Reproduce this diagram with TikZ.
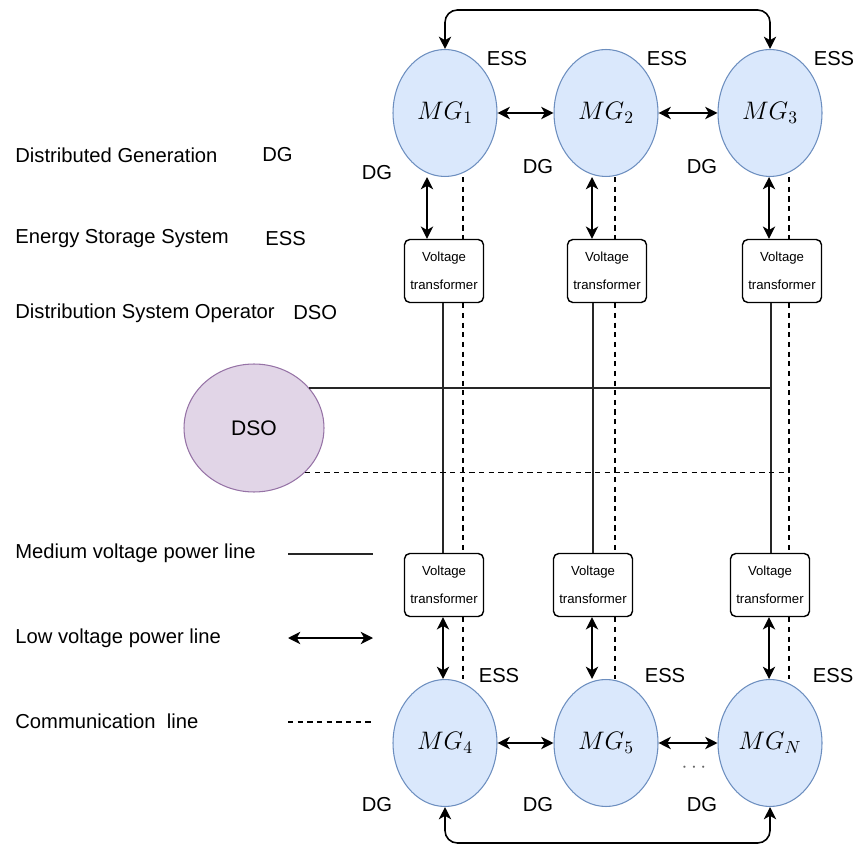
\documentclass[tikz,border=0pt]{standalone}
\usepackage{fontspec}
\setsansfont{Liberation Sans}
\usetikzlibrary{shapes.geometric, arrows.meta}
\definecolor{mgfill}{HTML}{DAE8FC}
\definecolor{mgline}{HTML}{6C8EBF}
\definecolor{dsofill}{HTML}{E1D5E7}
\definecolor{dsoline}{HTML}{9673A6}
\begin{document}
\begin{tikzpicture}[
    x=0.02cm, y=-0.02cm,
    mg/.style={ellipse, draw=mgline, fill=mgfill, line width=0.6pt, minimum width=2.08cm, minimum height=2.54cm, inner sep=0pt, font=\fontsize{14.4}{16}\selectfont},
    dso/.style={ellipse, draw=dsoline, fill=dsofill, line width=0.6pt, minimum width=2.8cm, minimum height=2.56cm, inner sep=0pt, font=\sffamily\fontsize{12}{14}\selectfont},
    vt/.style={draw, rounded corners=3pt, fill=white, line width=0.8pt, minimum width=1.58cm, minimum height=1.26cm, inner sep=1pt, align=center, font=\sffamily\fontsize{7.5}{16}\selectfont},
    lbl/.style={inner sep=0pt, font=\sffamily\fontsize{11.5}{13}\selectfont},
    key/.style={lbl, anchor=west},
    lv/.style={{Stealth[length=7pt,width=7pt,inset=2pt]}-{Stealth[length=7pt,width=7pt,inset=2pt]}, line width=0.9pt},
    mv/.style={line width=0.9pt, black!85},
    cl/.style={dash pattern=on 3pt off 2.5pt, line width=0.6pt}
]
    \useasboundingbox (0,0) rectangle (855,847);
    % microgrids
    \node[mg] (mg1) at (445,113) {$MG_1$};
    \node[mg] (mg2) at (606,113) {$MG_2$};
    \node[mg] (mg3) at (770,113) {$MG_3$};
    \node[mg] (mg4) at (445,743) {$MG_4$};
    \node[mg] (mg5) at (606,743) {$MG_5$};
    \node[mg] (mgn) at (770,743) {$MG_N$};
    % transformers
    \node[vt] (vt1) at (444,271) {Voltage\\transformer};
    \node[vt] (vt2) at (607,271) {Voltage\\transformer};
    \node[vt] (vt3) at (782,271) {Voltage\\transformer};
    \node[vt] (vt4) at (444,585) {Voltage\\transformer};
    \node[vt] (vt5) at (593,585) {Voltage\\transformer};
    \node[vt] (vt6) at (770,585) {Voltage\\transformer};
    \node[dso] (dso) at (254,428) {DSO};
    % ESS / DG tags
    \node[lbl] (ess1) at (507,59) {ESS};
    \node[lbl] (ess2) at (667,59) {ESS};
    \node[lbl] (ess3) at (834,59) {ESS};
    \node[lbl] (ess4) at (499,676) {ESS};
    \node[lbl] (ess5) at (665,676) {ESS};
    \node[lbl] (ess6) at (833,676) {ESS};
    \node[lbl] (dg1) at (377,173) {DG};
    \node[lbl] (dg2) at (538,167) {DG};
    \node[lbl] (dg3) at (702,167) {DG};
    \node[lbl] (dg4) at (377,805) {DG};
    \node[lbl] (dg5) at (538,805) {DG};
    \node[lbl] (dg6) at (702,805) {DG};
    \node[text=black!60, font=\fontsize{12}{14}\selectfont] (dots) at (694,768) {$\cdots$};
    % legend
    \node[key] (kdg) at (15,155) {Distributed Generation};
    \node[key] at (262,155) {DG};
    \node[key] (kess) at (15,239) {Energy Storage System};
    \node[key] at (265,239) {ESS};
    \node[key] (kdso) at (15,313) {Distribution System Operator};
    \node[key] at (293,313) {DSO};
    \node[key] (kmv) at (15,553) {Medium voltage power line};
    \node[key] (klv) at (15,638) {Low voltage power line};
    \node[key] (kcl) at (15,721) {Communication\ \ line};
    \draw[mv] (288,554) -- (373,554);
    \draw[lv] (288,638) -- (373,638);
    \draw[cl] (288,722) -- (373,722);
    % low voltage links
    \draw[lv] (mg1) -- (mg2);
    \draw[lv] (mg2) -- (mg3);
    \draw[lv] (mg4) -- (mg5);
    \draw[lv] (mg5) -- (mgn);
    \draw[lv, rounded corners=7pt] (mg1.north) -- (mg1.north |- 0,10) -- (mg3.north |- 0,10) -- (mg3.north);
    \draw[lv, rounded corners=7pt] (mg4.south) -- (mg4.south |- 0,843) -- (mgn.south |- 0,843) -- (mgn.south);
    \draw[lv] (mg1.south -| 427,0) -- (vt1.north -| 427,0);
    \draw[lv] (mg2.south -| 592,0) -- (vt2.north -| 592,0);
    \draw[lv] (mg3.south -| 769,0) -- (vt3.north -| 769,0);
    \draw[lv] (vt4.south -| 443,0) -- (mg4.north -| 443,0);
    \draw[lv] (vt5.south -| 592,0) -- (mg5.north -| 592,0);
    \draw[lv] (vt6.south -| 769,0) -- (mgn.north -| 769,0);
    % medium voltage
    \draw[mv] (vt1.south -| 443,0) -- (vt4.north -| 443,0);
    \draw[mv] (vt2.south -| 593,0) -- (vt5.north -| 593,0);
    \draw[mv] (vt3.south -| 771,0) -- (vt6.north -| 771,0);
    \draw[mv] (dso.36) -- (dso.36 -| 771,0);
    % communication
    \foreach \x/\top/\up/\down/\bot in {463/mg1/vt1/vt4/mg4, 615/mg2/vt2/vt5/mg5, 789/mg3/vt3/vt6/mgn} {
        \draw[cl] (\top.south -| \x,0) -- (\up.north -| \x,0);
        \draw[cl] (\up.south -| \x,0) -- (\down.north -| \x,0);
        \draw[cl] (\down.south -| \x,0) -- (\bot.north -| \x,0);
    }
    \draw[cl] (dso.-41) -- (dso.-41 -| 789,0);
\end{tikzpicture}
\end{document}
